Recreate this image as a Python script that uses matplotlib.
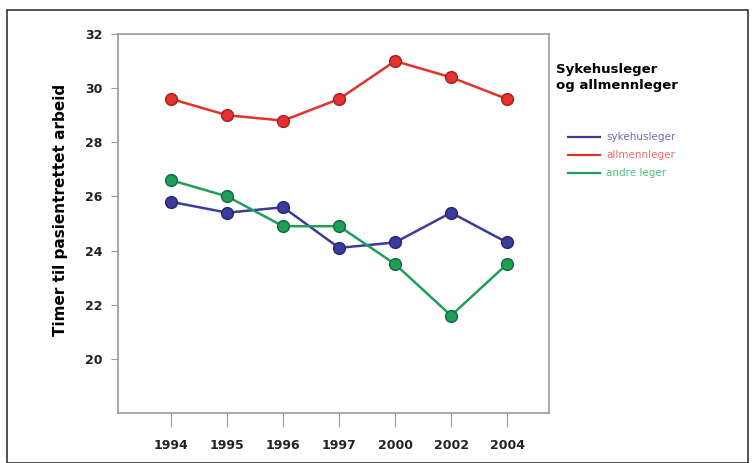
import matplotlib
matplotlib.use("Agg")
import matplotlib.pyplot as plt
from matplotlib.patches import Rectangle
from matplotlib.lines import Line2D

years = ["1994", "1995", "1996", "1997", "2000", "2002", "2004"]
sykehusleger = [25.8, 25.4, 25.6, 24.1, 24.3, 25.4, 24.3]
allmennleger = [29.6, 29.0, 28.8, 29.6, 31.0, 30.4, 29.6]
andre_leger = [26.6, 26.0, 24.9, 24.9, 23.5, 21.6, 23.5]
series_names = ["sykehusleger", "allmennleger", "andre leger"]
colors = ["#3b3b9c", "#e3312d", "#1e9e58"]
edge_colors = ["#26266e", "#a81e1c", "#126a3a"]
legend_text_colors = ["#6a6ab8", "#ee6a66", "#4fbf82"]
yticks = [20, 22, 24, 26, 28, 30, 32]

fig = plt.figure(figsize=(7.52, 4.63), dpi=100)
fig.patches.append(Rectangle((7/752, 0), 741/752, 1 - 10/463, transform=fig.transFigure,
                             fill=False, edgecolor="#333333", linewidth=1.2))

ax = fig.add_axes([118/752, 1 - 413/463, (549 - 118)/752, (413 - 34)/463])
x = list(range(len(years)))
for vals, c, ec in zip([sykehusleger, allmennleger, andre_leger], colors, edge_colors):
    ax.plot(x, vals, color=c, linewidth=1.8, marker="o", markersize=8.5,
            markerfacecolor=c, markeredgecolor=ec, markeredgewidth=1.0)

ax.set_xlim(-0.95, 6.75)
ax.set_ylim(18, 32)
ax.set_yticks(yticks)
ax.set_yticklabels([str(t) for t in yticks], fontweight="bold", fontsize=9, color="#222222")
ax.set_xticks(x)
ax.set_xticklabels(years, fontweight="bold", fontsize=9, color="#222222")
for s in ax.spines.values():
    s.set_color("#9a9a9a")
    s.set_linewidth(1.2)
ax.tick_params(axis="y", direction="out", length=5, color="#9a9a9a", pad=6)
ax.tick_params(axis="x", direction="out", length=10, color="#9a9a9a", pad=9)
ax.set_ylabel("Timer til pasientrettet arbeid", fontsize=11, fontweight="bold")
ax.yaxis.set_label_coords(-0.115, 0.536)

fig.text(556/752, 1 - 78/463, "Sykehusleger\nog allmennleger", fontsize=9.5, fontweight="bold",
         va="center", ha="left", linespacing=1.3)
leg_y = [137, 155, 173]
for name, c, tc, yy in zip(series_names, colors, legend_text_colors, leg_y):
    fig.add_artist(Line2D([568/752, 600/752], [1 - yy/463, 1 - yy/463], color=c, linewidth=1.6,
                          transform=fig.transFigure))
    fig.text(606/752, 1 - yy/463, name, fontsize=7.5, color=tc, va="center", ha="left")

fig.savefig("out.png", dpi=100)
